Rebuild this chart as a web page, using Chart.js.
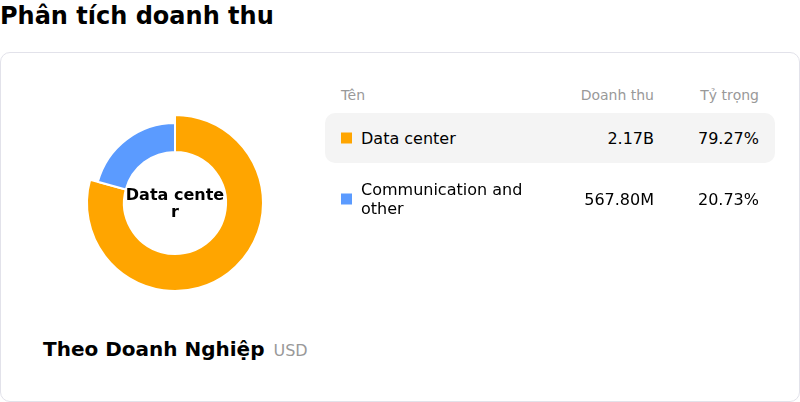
<!DOCTYPE html>
<html>
<head>
<meta charset="utf-8">
<script src="https://cdn.jsdelivr.net/npm/chart.js@4.4.1/dist/chart.umd.min.js"></script>
<style>
  html, body { margin: 0; padding: 0; background: #fff; }
  body { width: 800px; height: 402px; position: relative; overflow: hidden; font-family: "DejaVu Sans", sans-serif; color: #000; }
  #title { position: absolute; left: 0; top: 2px; font-size: 24px; font-weight: bold; line-height: 28px; white-space: nowrap; }
  #card { position: absolute; left: 0; top: 52px; width: 798px; height: 348px; border: 1px solid #e2e2ea; border-radius: 10px; }
  #chartBox { position: absolute; left: 55px; top: 83px; width: 240px; height: 240px; }
  #center { position: absolute; left: 125px; top: 186px; width: 100px; text-align: center; font-size: 16px; font-weight: bold; line-height: 17px; word-break: break-all; }
  #caption { position: absolute; left: 43px; top: 336px; white-space: nowrap; line-height: 26px; }
  #caption .main { font-size: 20px; font-weight: bold; }
  #caption .unit { font-size: 16px; color: #999; margin-left: 9px; }
  .row { position: absolute; left: 325px; width: 450px; display: flex; align-items: center; border-radius: 10px; }
  .row .name { position: absolute; left: 36px; width: 185px; }
  .row .mark { position: absolute; left: 16px; width: 11px; height: 11px; }
  .row .val { position: absolute; right: 121px; text-align: right; white-space: nowrap; }
  .row .pct { position: absolute; right: 16px; text-align: right; white-space: nowrap; }
  .hdr { top: 80px; height: 30px; font-size: 14px; color: #999; }
  .hdr .name { left: 16px; }
  .data { font-size: 16px; line-height: 19px; height: 50px; }
  .data .name, .data .val, .data .pct { top: 50%; transform: translateY(-50%); }
  .data .mark { top: 50%; transform: translateY(-50%); }
  .hdr .name, .hdr .val, .hdr .pct { top: 50%; transform: translateY(-50%); }
</style>
</head>
<body>
<div id="title">Phân tích doanh thu</div>
<div id="card"></div>
<div id="chartBox"><canvas id="c" width="240" height="240"></canvas></div>
<div id="center"></div>
<div id="caption"><span class="main">Theo Doanh Nghiệp</span><span class="unit">USD</span></div>
<div id="table"></div>
<script>
const categories = ["Data center", "Communication and other"];
const revenueMillions = [2170, 567.8];
const sharePercent = [79.27, 20.73];
const colors = ["#FFA500", "#5B9BFF"];
const headers = ["Tên", "Doanh thu", "Tỷ trọng"];
const selectedIndex = 0;

function fmtRevenue(v) {
  return v >= 1000 ? (v / 1000).toFixed(2) + "B" : v.toFixed(2) + "M";
}

// table
const table = document.getElementById("table");
const hdr = document.createElement("div");
hdr.className = "row hdr";
hdr.innerHTML = '<span class="name">' + headers[0] + '</span><span class="val">' + headers[1] + '</span><span class="pct">' + headers[2] + '</span>';
table.appendChild(hdr);
const rowTops = [113, 174];
categories.forEach((cat, i) => {
  const r = document.createElement("div");
  r.className = "row data";
  r.style.top = rowTops[i] + "px";
  if (i === selectedIndex) r.style.background = "#f4f4f4";
  r.innerHTML = '<span class="mark" style="background:' + colors[i] + '"></span>' +
    '<span class="name">' + cat + '</span>' +
    '<span class="val">' + fmtRevenue(revenueMillions[i]) + '</span>' +
    '<span class="pct">' + sharePercent[i].toFixed(2) + '%</span>';
  table.appendChild(r);
});
document.getElementById("center").textContent = categories[selectedIndex];

const shrinkUnselected = {
  id: "shrinkUnselected",
  beforeDatasetsDraw(chart) {
    const meta = chart.getDatasetMeta(0);
    meta.data.forEach((arc, i) => {
      arc.outerRadius = (i === selectedIndex) ? 88 : 80;
    });
  }
};

new Chart(document.getElementById("c"), {
  type: "doughnut",
  data: {
    labels: categories,
    datasets: [{
      data: revenueMillions,
      backgroundColor: colors,
      borderColor: "#ffffff",
      borderWidth: 2,
      hoverOffset: 0
    }]
  },
  options: {
    responsive: false,
    animation: false,
    radius: 88,
    cutout: "58%",
    events: [],
    plugins: { legend: { display: false }, tooltip: { enabled: false } }
  },
  plugins: [shrinkUnselected]
});
</script>
</body>
</html>
